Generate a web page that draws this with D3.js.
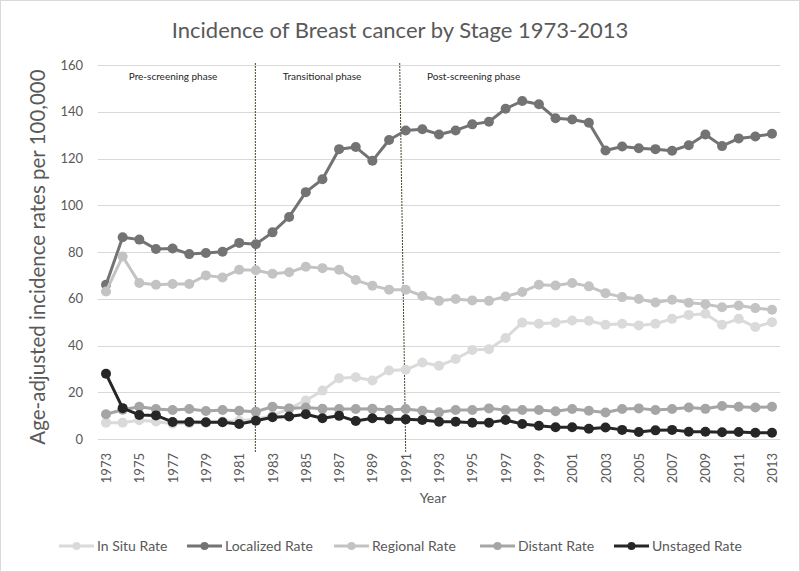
<!DOCTYPE html>
<html>
<head>
<meta charset="utf-8">
<script src="https://cdn.jsdelivr.net/npm/d3@7"></script>
<style>
  html, body { margin: 0; padding: 0; background: #fff; }
  svg { display: block; font-family: Lato, "Open Sans", sans-serif; }
</style>
</head>
<body>
<svg id="chart" width="800" height="572"></svg>
<script>
const years = d3.range(1973, 2014);
const yTicks = [0, 20, 40, 60, 80, 100, 120, 140, 160];
const xTickLabels = years.filter((y, i) => i % 2 === 0);

const inSitu = [7.0, 7.0, 8.0, 7.5, 6.5, 6.8, 7.0, 7.5, 7.8, 8.5, 10.0, 13.0, 16.5, 20.7, 26.0, 26.4, 25.0, 29.3, 29.6, 32.7, 31.3, 34.2, 38.1, 38.4, 43.2, 49.8, 49.3, 49.7, 50.7, 50.6, 48.9, 49.3, 48.6, 49.3, 51.4, 53.1, 53.6, 48.9, 51.4, 47.9, 50.0];
const localized = [66.0, 86.3, 85.3, 81.3, 81.5, 79.1, 79.6, 80.1, 83.9, 83.3, 88.4, 95.0, 105.6, 111.1, 124.0, 124.9, 119.0, 127.9, 132.0, 132.5, 130.3, 132.0, 134.6, 135.7, 141.3, 144.6, 143.2, 137.2, 136.7, 135.3, 123.4, 125.1, 124.4, 124.0, 123.3, 125.7, 130.3, 125.3, 128.6, 129.4, 130.6];
const regional = [63.1, 78.1, 66.7, 66.0, 66.3, 66.3, 70.0, 69.1, 72.4, 72.2, 70.7, 71.3, 73.7, 73.1, 72.4, 68.0, 65.6, 63.9, 63.9, 61.2, 59.1, 59.9, 59.3, 59.1, 61.0, 62.9, 66.0, 65.7, 66.7, 65.3, 62.4, 60.7, 59.9, 58.4, 59.6, 58.3, 57.7, 56.4, 57.1, 56.0, 55.3];
const distant = [10.6, 12.5, 13.8, 12.8, 12.4, 12.8, 12.0, 12.4, 12.1, 11.7, 13.8, 13.1, 13.5, 12.9, 12.8, 12.8, 12.9, 12.4, 12.8, 12.1, 11.4, 12.4, 12.4, 13.1, 12.4, 12.4, 12.4, 11.9, 12.8, 12.1, 11.3, 12.8, 13.1, 12.4, 12.8, 13.5, 12.9, 14.1, 13.8, 13.5, 13.8];
const unstaged = [27.9, 13.2, 10.3, 10.1, 7.3, 7.3, 7.2, 7.2, 6.4, 7.8, 9.3, 9.6, 10.6, 8.9, 9.9, 7.7, 8.9, 8.4, 8.4, 8.1, 7.4, 7.4, 7.0, 7.0, 8.1, 6.4, 5.7, 5.0, 5.0, 4.4, 4.9, 3.9, 3.0, 3.7, 3.9, 3.1, 3.1, 2.9, 3.0, 2.7, 2.7];

const seriesNames = ["In Situ Rate", "Localized Rate", "Regional Rate", "Distant Rate", "Unstaged Rate"];
const seriesColors = ["#dadada", "#737373", "#c3c3c3", "#a5a5a5", "#262626"];
const seriesValues = [inSitu, localized, regional, distant, unstaged];

const phaseLabels = ["Pre-screening phase", "Transitional phase", "Post-screening phase"];
const phaseYears = [1982, 1991];

const svg = d3.select("#chart");
const W = 800, H = 572;

// chart border
svg.append("rect").attr("x", 0.5).attr("y", 0.5).attr("width", W - 1).attr("height", H - 1)
  .attr("fill", "#fff").attr("stroke", "#d9d9d9");

const x = d3.scalePoint().domain(years).range([106, 772]);
const step = x.step();
const y = d3.scaleLinear().domain([0, 160]).range([439, 65]);
const plotL = x(1973) - step / 2, plotR = x(2013) + step / 2;

// title
svg.append("text").attr("x", 400).attr("y", 38).attr("text-anchor", "middle")
  .attr("font-size", 22).attr("fill", "#595959").text("Incidence of Breast cancer by Stage 1973-2013");

// gridlines
svg.append("g").selectAll("line").data(yTicks).join("line")
  .attr("x1", plotL).attr("x2", plotR)
  .attr("y1", d => Math.round(y(d)) + 0.5).attr("y2", d => Math.round(y(d)) + 0.5)
  .attr("stroke", "#d9d9d9").attr("stroke-width", 1);

// y axis
const yAxis = d3.axisLeft(y).tickValues(yTicks).tickSize(0).tickPadding(0);
const gy = svg.append("g").attr("transform", `translate(83,0)`).call(yAxis);
gy.select(".domain").remove();
gy.selectAll("text").attr("font-size", 13).attr("fill", "#595959").attr("font-family", "Lato, sans-serif");

// x axis labels
const xAxis = d3.axisBottom(x).tickValues(xTickLabels).tickSize(0).tickPadding(0);
const gx = svg.append("g").attr("transform", `translate(0,453)`).call(xAxis);
gx.select(".domain").remove();
gx.selectAll("text").attr("font-size", 13).attr("fill", "#595959").attr("font-family", "Lato, sans-serif")
  .attr("transform", "rotate(-90)").attr("text-anchor", "end").attr("dx", "0").attr("dy", "0.35em").attr("y", 0).attr("x", 0);

// axis titles
svg.append("text").attr("x", 433).attr("y", 503).attr("text-anchor", "middle")
  .attr("font-size", 14).attr("fill", "#595959").text("Year");
svg.append("text").attr("transform", "translate(45,257) rotate(-90)").attr("text-anchor", "middle")
  .attr("font-size", 20.5).attr("fill", "#595959").text("Age-adjusted incidence rates per 100,000");

// phase divider lines
const phaseG = svg.append("g");
phaseG.append("line").attr("x1", x(phaseYears[0]) - 0.5).attr("x2", x(phaseYears[0]) - 0.5)
  .attr("y1", 63).attr("y2", 452).attr("stroke", "#3d4a2b").attr("stroke-width", 1).attr("stroke-dasharray", "2,1");
phaseG.append("line").attr("x1", x(phaseYears[1]) - 6).attr("x2", x(phaseYears[1]))
  .attr("y1", 63).attr("y2", 452).attr("stroke", "#3d4a2b").attr("stroke-width", 1).attr("stroke-dasharray", "2,1");

// phase labels
svg.append("text").attr("x", 173).attr("y", 80).attr("text-anchor", "middle")
  .attr("font-size", 10).attr("fill", "#262626").text(phaseLabels[0]);
svg.append("text").attr("x", 322).attr("y", 80).attr("text-anchor", "middle")
  .attr("font-size", 10).attr("fill", "#262626").text(phaseLabels[1]);
svg.append("text").attr("x", 427).attr("y", 80).attr("text-anchor", "start")
  .attr("font-size", 10).attr("fill", "#262626").text(phaseLabels[2]);

// series
const line = d3.line().x((d, i) => x(years[i])).y(d => y(d));
seriesValues.forEach((vals, si) => {
  const g = svg.append("g");
  g.append("path").datum(vals).attr("d", line).attr("fill", "none")
    .attr("stroke", seriesColors[si]).attr("stroke-width", 3).attr("stroke-linejoin", "round");
  g.selectAll("circle").data(vals).join("circle")
    .attr("cx", (d, i) => x(years[i])).attr("cy", d => y(d)).attr("r", 5)
    .attr("fill", seriesColors[si]);
});

// legend
const legendX = [59, 187, 334, 480, 614];
const lg = svg.append("g");
seriesNames.forEach((name, i) => {
  const gx0 = legendX[i];
  const it = lg.append("g").attr("transform", `translate(${gx0},546)`);
  it.append("line").attr("x1", 0).attr("x2", 35).attr("y1", 0).attr("y2", 0)
    .attr("stroke", seriesColors[i]).attr("stroke-width", 3);
  it.append("circle").attr("cx", 17.5).attr("cy", 0).attr("r", 4).attr("fill", seriesColors[i]);
  it.append("text").attr("x", 38).attr("y", 0).attr("dy", "0.35em")
    .attr("font-size", 14).attr("fill", "#595959").text(name);
});
</script>
</body>
</html>
